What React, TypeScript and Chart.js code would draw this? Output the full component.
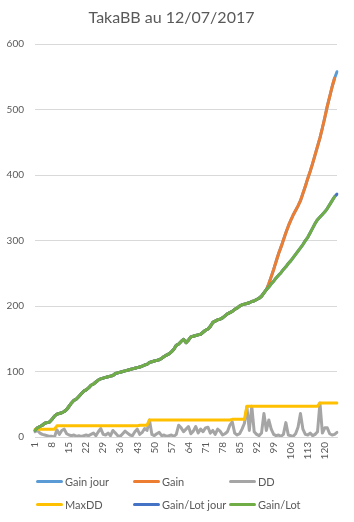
import React, { useEffect, useRef } from "react";
import { Chart, registerables } from "chart.js";

Chart.register(...registerables);

const categories: number[] = [
  1, 2, 3, 4, 5, 6, 7, 8, 9, 10, 11, 12, 13, 14, 15, 16, 17, 18, 19, 20,
  21, 22, 23, 24, 25, 26, 27, 28, 29, 30, 31, 32, 33, 34, 35, 36, 37, 38, 39, 40,
  41, 42, 43, 44, 45, 46, 47, 48, 49, 50, 51, 52, 53, 54, 55, 56, 57, 58, 59, 60,
  61, 62, 63, 64, 65, 66, 67, 68, 69, 70, 71, 72, 73, 74, 75, 76, 77, 78, 79, 80,
  81, 82, 83, 84, 85, 86, 87, 88, 89, 90, 91, 92, 93, 94, 95, 96, 97, 98, 99, 100,
  101, 102, 103, 104, 105, 106, 107, 108, 109, 110, 111, 112, 113, 114, 115, 116, 117, 118, 119, 120,
  121, 122, 123, 124, 125,
];

const gainLot: number[] = [
  10, 14, 16, 18, 21, 22, 23, 27, 32, 35,
  36, 37, 39, 42, 47, 52, 56, 58, 62, 66,
  70, 72, 75, 79, 81, 84, 87, 89, 90, 91,
  92, 93, 94, 97, 98, 99, 100, 101, 102, 103,
  104, 105, 106, 107, 108, 110, 111, 114, 115, 116,
  117, 118, 120, 123, 125, 127, 130, 134, 140, 142,
  146, 149, 144, 148, 153, 154, 155, 156, 157, 160,
  163, 165, 169, 175, 177, 179, 180, 182, 185, 188,
  190, 192, 195, 197, 200, 202, 203, 204, 205, 207,
  208, 210, 212, 215, 220, 225, 229, 234, 238, 243,
  247, 251, 256, 260, 265, 269, 274, 279, 284, 289,
  294, 300, 305, 312, 319, 326, 332, 336, 340, 344,
  349, 355, 361, 367,
];
const gainLotJourTail: number[] = [371];

const gainShared = 95; // Gain equals Gain/Lot over the first 95 days
const gainAfter: number[] = [
  225, 234, 245, 256, 268, 280, 290, 301, 312, 322,
  331, 339, 346, 353, 361, 372, 383, 395, 406, 418,
  431, 444, 457, 472, 488, 505, 520, 535, 548,
];
const gainJourTail: number[] = [558];

const dd: number[] = [
  8, 10, 6, 4, 3, 2, 1, 1, 0, 11,
  4, 10, 12, 5, 3, 2, 3, 1, 2, 1,
  2, 3, 2, 4, 6, 2, 8, 13, 4, 3,
  6, 2, 10, 6, 2, 1, 5, 9, 6, 3,
  2, 8, 12, 4, 7, 13, 10, 26, 4, 2,
  5, 7, 2, 3, 1, 2, 3, 1, 4, 18,
  14, 8, 12, 16, 5, 9, 16, 6, 12, 8,
  14, 15, 6, 10, 4, 12, 9, 3, 5, 8,
  18, 23, 6, 3, 5, 12, 21, 46, 10, 47,
  8, 4, 2, 6, 36, 10, 26, 12, 4, 2,
  3, 1, 4, 22, 3, 2, 1, 5, 15, 36,
  12, 4, 3, 6, 2, 4, 8, 52, 6, 14,
  14, 5, 3, 4, 7,
];

const maxDD: number[] = [
  12, 12, 12, 12, 12, 12, 12, 12, 12, 17,
  17, 17, 17, 17, 17, 17, 17, 17, 17, 17,
  17, 17, 17, 17, 17, 17, 17, 17, 17, 17,
  17, 17, 17, 17, 17, 17, 17, 17, 17, 17,
  17, 17, 17, 18, 18, 18, 18, 26, 26, 26,
  26, 26, 26, 26, 26, 26, 26, 26, 26, 26,
  26, 26, 26, 26, 26, 26, 26, 26, 26, 26,
  26, 26, 26, 26, 26, 26, 26, 26, 26, 26,
  26, 27, 27, 27, 27, 27, 27, 47, 47, 47,
  47, 47, 47, 47, 47, 47, 47, 47, 47, 47,
  47, 47, 47, 47, 47, 47, 47, 47, 47, 47,
  47, 47, 47, 47, 47, 47, 47, 52, 52, 52,
  52, 52, 52, 52, 52,
];

const yTicks: number[] = [0, 100, 200, 300, 400, 500, 600];
const xLabelEvery = 7;

const gain: number[] = [...gainLot.slice(0, gainShared), ...gainAfter];
const gainJour: number[] = [...gain, ...gainJourTail];
const gainLotJour: number[] = [...gainLot, ...gainLotJourTail];

const seriesNames = ["Gain jour", "Gain", "DD", "MaxDD", "Gain/Lot jour", "Gain/Lot"];
const seriesColors = ["#5B9BD5", "#ED7D31", "#A5A5A5", "#FFC000", "#4472C4", "#70AD47"];
const seriesData = [gainJour, gain, dd, maxDD, gainLotJour, gainLot];

const FONT = "Lato, 'Open Sans', sans-serif";
const TEXT = "#595959";

export default function App() {
  const ref = useRef<HTMLCanvasElement | null>(null);

  useEffect(() => {
    if (!ref.current) return;
    const chart = new Chart(ref.current, {
      type: "line",
      data: {
        labels: categories.map(String),
        datasets: seriesData.map((d, i) => ({
          label: seriesNames[i],
          data: d,
          borderColor: seriesColors[i],
          backgroundColor: seriesColors[i],
          borderWidth: 3,
          pointRadius: 0,
          tension: 0,
          fill: false,
          borderJoinStyle: "round" as const,
          borderCapStyle: "round" as const,
          order: seriesData.length - i,
        })),
      },
      options: {
        animation: false,
        responsive: false,
        maintainAspectRatio: false,
        layout: { padding: { left: 0, right: 11, top: 0, bottom: 60 } },
        plugins: {
          legend: { display: false },
          tooltip: { enabled: false },
          title: {
            display: true,
            text: "TakaBB au 12/07/2017",
            color: TEXT,
            font: { family: FONT, size: 16, weight: "normal" },
            padding: { top: 8, bottom: 17 },
          },
        },
        scales: {
          x: {
            type: "category",
            offset: false,
            grid: { display: false, drawTicks: false },
            border: { display: true, color: "#D9D9D9", width: 1 },
            ticks: {
              autoSkip: false,
              maxRotation: 90,
              minRotation: 90,
              padding: 5,
              color: TEXT,
              font: { family: FONT, size: 10 },
              callback: (_v: any, idx: number) => (idx % xLabelEvery === 0 ? String(categories[idx]) : ""),
            },
            afterFit: (axis: any) => {
              axis.height = 25;
            },
          },
          y: {
            min: yTicks[0],
            max: yTicks[yTicks.length - 1],
            afterBuildTicks: (axis: any) => {
              axis.ticks = yTicks.map((v) => ({ value: v }));
            },
            grid: { color: "#D9D9D9", lineWidth: 1, drawTicks: false },
            border: { display: false },
            ticks: {
              padding: 11,
              color: TEXT,
              font: { family: FONT, size: 10 },
            },
            afterFit: (axis: any) => {
              axis.width = 35;
            },
          },
        },
      },
    });
    return () => chart.destroy();
  }, []);

  const legendCols = [36, 133, 229];
  const legendRows = [481, 504];

  return (
    <div style={{ position: "fixed", left: 0, top: 0, width: 354, height: 522, background: "#fff" }}>
      <canvas ref={ref} width={354} height={522} style={{ display: "block" }} />
      {seriesNames.map((name, i) => {
        const col = i % 3;
        const row = Math.floor(i / 3);
        return (
          <div
            key={name}
            style={{
              position: "absolute",
              left: legendCols[col],
              top: legendRows[row] - 8,
              height: 16,
              display: "flex",
              alignItems: "center",
              fontFamily: FONT,
              fontSize: 11,
              color: TEXT,
              whiteSpace: "nowrap",
            }}
          >
            <span
              style={{
                display: "inline-block",
                width: 27,
                height: 3,
                borderRadius: 1.5,
                background: seriesColors[i],
                marginRight: 2,
              }}
            />
            <span>{name}</span>
          </div>
        );
      })}
    </div>
  );
}
